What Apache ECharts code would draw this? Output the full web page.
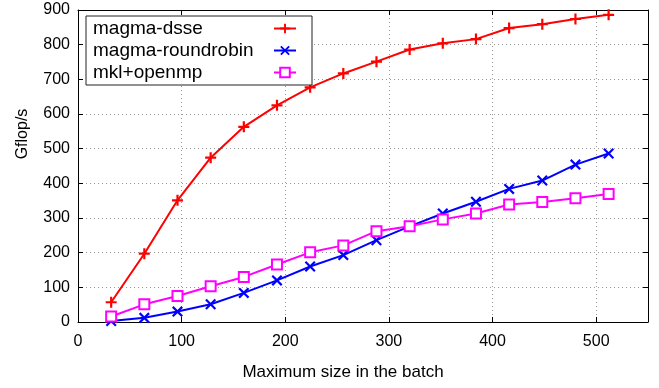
<!DOCTYPE html>
<html>
<head>
<meta charset="utf-8">
<script src="https://cdn.jsdelivr.net/npm/echarts@6/dist/echarts.min.js"></script>
<style>
  html, body { margin: 0; padding: 0; background: #fff; }
  #chart { width: 659px; height: 388px; }
</style>
</head>
<body>
<div id="chart"></div>
<script>
// batch sizes (x)
var batchSizes = [32, 64, 96, 128, 160, 192, 224, 256, 288, 320, 352, 384, 416, 448, 480, 512];
// Gflop/s per implementation
var magmaDsse = [57, 197, 351, 474, 563, 625, 677, 717, 751, 786, 804, 816, 848, 859, 874, 886];
var magmaRoundrobin = [3, 12, 30, 51, 84, 120, 160, 193, 236, 276, 313, 347, 384, 408, 454, 486];
var mklOpenmp = [16, 51, 75, 103, 130, 166, 201, 221, 262, 276, 296, 313, 339, 346, 357, 369];

var seriesNames = ["magma-dsse", "magma-roundrobin", "mkl+openmp"];

function pairs(ys) {
  return batchSizes.map(function (x, i) { return [x, ys[i]]; });
}

var plusPath = "path://M4,0h2v4h4v2h-4v4h-2v-4h-4v-2h4z";
var crossPath = "path://M0,1.4L1.4,0L5,3.6L8.6,0L10,1.4L6.4,5L10,8.6L8.6,10L5,6.4L1.4,10L0,8.6L3.6,5z";

var font = "Liberation Sans, Arial, Helvetica, sans-serif";
var chart = echarts.init(document.getElementById("chart"));

chart.setOption({
  animation: false,
  textStyle: { fontFamily: font },
  grid: { left: 78, right: 11, top: 10, bottom: 66 },
  title: {
    text: "Maximum size in the batch",
    left: 343,
    top: 364,
    textAlign: "center",
    padding: 0,
    textStyle: { fontSize: 17, fontWeight: "normal", color: "#000", fontFamily: font }
  },
  legend: {
    orient: "vertical",
    left: 86,
    top: 16,
    align: "right",
    padding: [3, 15, 3, 7],
    itemGap: 3,
    itemWidth: 22,
    itemHeight: 12,
    backgroundColor: "#fff",
    borderColor: "#222",
    borderWidth: 1,
    borderRadius: 0,
    data: seriesNames,
    formatter: "{t|{name}}",
    textStyle: {
      color: "#000",
      fontFamily: font,
      rich: { t: { width: 176, align: "left", fontSize: 19, color: "#000", fontFamily: font } }
    }
  },
  xAxis: [
    {
      type: "value",
      min: 0,
      max: 550,
      interval: 100,
      axisLine: { show: true, onZero: false, lineStyle: { color: "#000", width: 1 } },
      axisTick: { show: true, inside: true, length: 5, lineStyle: { color: "#000" } },
      axisLabel: { color: "#000", fontSize: 16, margin: 12, showMaxLabel: false },
      splitLine: { show: true, lineStyle: { color: "#999", type: [1, 3], width: 1 } }
    },
    {
      type: "value",
      position: "top",
      min: 0,
      max: 550,
      interval: 100,
      axisLine: { show: true, onZero: false, lineStyle: { color: "#000", width: 1 } },
      axisTick: { show: true, inside: true, length: 5, lineStyle: { color: "#000" } },
      axisLabel: { show: false },
      splitLine: { show: false }
    }
  ],
  yAxis: [
    {
      type: "value",
      min: 0,
      max: 900,
      interval: 100,
      name: "Gflop/s",
      nameLocation: "middle",
      nameRotate: 90,
      nameGap: 47,
      nameTextStyle: { color: "#000", fontSize: 16, padding: [0, 0, 0, 64] },
      axisLine: { show: true, onZero: false, lineStyle: { color: "#000", width: 1 } },
      axisTick: { show: true, inside: true, length: 5, lineStyle: { color: "#000" } },
      axisLabel: { color: "#000", fontSize: 16, margin: 8 },
      splitLine: { show: true, lineStyle: { color: "#999", type: [1, 3], width: 1 } }
    },
    {
      type: "value",
      position: "right",
      min: 0,
      max: 900,
      interval: 100,
      axisLine: { show: true, onZero: false, lineStyle: { color: "#000", width: 1 } },
      axisTick: { show: true, inside: true, length: 5, lineStyle: { color: "#000" } },
      axisLabel: { show: false },
      splitLine: { show: false }
    }
  ],
  series: [
    {
      name: seriesNames[0],
      type: "line",
      data: pairs(magmaDsse),
      symbol: plusPath,
      symbolSize: 11,
      showAllSymbol: true,
      lineStyle: { color: "#ff0000", width: 2 },
      itemStyle: { color: "#ff0000" }
    },
    {
      name: seriesNames[1],
      type: "line",
      data: pairs(magmaRoundrobin),
      symbol: crossPath,
      symbolSize: 11,
      showAllSymbol: true,
      lineStyle: { color: "#0000ff", width: 2 },
      itemStyle: { color: "#0000ff" }
    },
    {
      name: seriesNames[2],
      type: "line",
      data: pairs(mklOpenmp),
      symbol: "emptyRect",
      symbolSize: 10,
      showAllSymbol: true,
      lineStyle: { color: "#ff00ff", width: 2 },
      itemStyle: { color: "#ff00ff", borderWidth: 2 }
    }
  ]
});
</script>
</body>
</html>
